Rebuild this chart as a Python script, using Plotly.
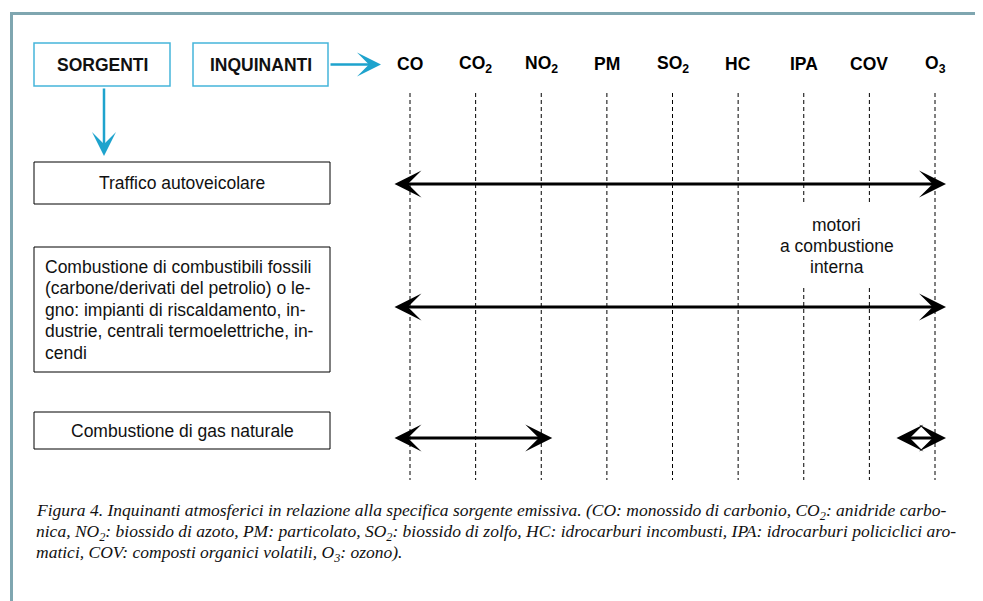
import plotly.graph_objects as go

# ---------------- data ----------------
pollutant_keys = ["CO", "CO2", "NO2", "PM", "SO2", "HC", "IPA", "COV", "O3"]
pollutant_labels = ["CO", "CO<sub>2</sub>", "NO<sub>2</sub>", "PM", "SO<sub>2</sub>",
                    "HC", "IPA", "COV", "O<sub>3</sub>"]

sources = [
    ["Traffico autoveicolare"],
    ["Combustione di combustibili fossili",
     "(carbone/derivati del petrolio) o le-",
     "gno: impianti di riscaldamento, in-",
     "dustrie, centrali termoelettriche, in-",
     "cendi"],
    ["Combustione di gas naturale"],
]
# spans of pollutants emitted by each source (from, to)
source_spans = [
    [("CO", "O3")],
    [("CO", "O3")],
    [("CO", "NO2"), ("O3", "O3")],
]
note_lines = ["motori", "a combustione", "interna"]
note_between = ("IPA", "COV")

header_left = "SORGENTI"
header_right = "INQUINANTI"

caption_lines = [
    "Figura 4. Inquinanti atmosferici in relazione alla specifica sorgente emissiva. "
    "(CO: monossido di carbonio, CO<sub>2</sub>: anidride carbo-",
    "nica, NO<sub>2</sub>: biossido di azoto, PM: particolato, SO<sub>2</sub>: biossido di zolfo, "
    "HC: idrocarburi incombusti, IPA: idrocarburi policiclici aro-",
    "matici, COV: composti organici volatili, O<sub>3</sub>: ozono).",
]

# ---------------- layout constants (pixels) ----------------
W, H = 983, 601
OFF = 8  # page body margin compensation
COL0_PX, COL_STEP_PX = 410.0, 65.625
x_min = (OFF - COL0_PX) / COL_STEP_PX
x_max = x_min + W / COL_STEP_PX

SANS = "Liberation Sans, Arial, Helvetica, sans-serif"
SERIF = "Liberation Serif, Times New Roman, serif"
CYAN = "#1ea3cd"
BOX_CYAN = "#45b5da"
FRAME = "#7fa6b0"

row_boxes = [(162, 204), (247, 372), (412, 449)]
row_arrow_y = [184, 307, 438]
row_text_align = ["center", "left", "center"]
LINE_H = 21.5

dash_top, dash_bot = 93, 480
gap_top, gap_bot = 205, 288

idx = {k: i for i, k in enumerate(pollutant_keys)}

fig = go.Figure()

# dashed vertical guide lines per pollutant
gap_cols = range(idx[note_between[0]], idx[note_between[1]] + 1)
for i, key in enumerate(pollutant_keys):
    if i in gap_cols:
        xs, ys = [i, i, None, i, i], [dash_top, gap_top, None, gap_bot, dash_bot]
    else:
        xs, ys = [i, i], [dash_top, dash_bot]
    fig.add_trace(go.Scatter(x=xs, y=ys, mode="lines", hoverinfo="skip",
                             line=dict(color="black", width=1, dash="4px,3px"),
                             showlegend=False, xaxis="x", yaxis="y"))

# pollutant labels
for i, lab in enumerate(pollutant_labels):
    fig.add_annotation(x=i, y=64, xref="x", yref="y", text=f"<b>{lab}</b>",
                       showarrow=False, font=dict(family=SANS, size=17.5, color="black"))

# source boxes & texts
BOX_L, BOX_R = 34, 330
for lines, (y0, y1), al in zip(sources, row_boxes, row_text_align):
    fig.add_shape(type="rect", xref="x2", yref="y", x0=BOX_L, x1=BOX_R, y0=y0, y1=y1,
                  line=dict(color="black", width=1))
    yc = (y0 + y1) / 2
    n = len(lines)
    for k, ln in enumerate(lines):
        yy = yc + (k - (n - 1) / 2) * LINE_H
        if al == "center":
            fig.add_annotation(x=(BOX_L + BOX_R) / 2, y=yy, xref="x2", yref="y",
                               text=ln, showarrow=False,
                               font=dict(family=SANS, size=17.5, color="#111"))
        else:
            fig.add_annotation(x=BOX_L + 9, y=yy, xref="x2", yref="y",
                               text=ln, showarrow=False, xanchor="left",
                               font=dict(family=SANS, size=17.5, color="#111"))

# double-headed arrows for each source span
PAD_L, PAD_R, SINGLE_L = 17 / COL_STEP_PX, 11 / COL_STEP_PX, 40 / COL_STEP_PX
for spans, y in zip(source_spans, row_arrow_y):
    for a, b in spans:
        xa = idx[a] - (SINGLE_L if a == b else PAD_L)
        xb = idx[b] + PAD_R
        fig.add_annotation(x=xb, y=y, ax=xa, ay=y, xref="x", yref="y", axref="x", ayref="y",
                           text="", showarrow=True, arrowhead=3, startarrowhead=3,
                           arrowside="end+start", arrowsize=1.5, startarrowsize=1.5,
                           arrowwidth=3, arrowcolor="black")

# note between IPA and COV
xn = (idx[note_between[0]] + idx[note_between[1]]) / 2
for k, ln in enumerate(note_lines):
    fig.add_annotation(x=xn, y=225 + 21 * k, xref="x", yref="y", text=ln, showarrow=False,
                       font=dict(family=SANS, size=17.5, color="#111"))

# header boxes
for (x0, x1), t in zip([(34, 170), (193, 328)], [header_left, header_right]):
    fig.add_shape(type="rect", xref="x2", yref="y", x0=x0, x1=x1, y0=43, y1=86,
                  line=dict(color=BOX_CYAN, width=1.5))
    fig.add_annotation(x=(x0 + x1) / 2, y=64.5, xref="x2", yref="y", text=f"<b>{t}</b>",
                       showarrow=False, font=dict(family=SANS, size=17.5, color="#111"))

# cyan arrows
fig.add_annotation(x=381, y=64.5, ax=329, ay=64.5, xref="x2", yref="y", axref="x2", ayref="y",
                   text="", showarrow=True, arrowhead=3, arrowsize=1.6, arrowwidth=2.5,
                   arrowcolor=CYAN)
fig.add_annotation(x=104, y=156, ax=104, ay=87, xref="x2", yref="y", axref="x2", ayref="y",
                   text="", showarrow=True, arrowhead=3, arrowsize=1.6, arrowwidth=2.5,
                   arrowcolor=CYAN)

# outer frame
fig.add_shape(type="path", xref="x2", yref="y",
              path=f"M 11.5 {H + OFF} L 11.5 13.5 L {W + OFF} 13.5",
              line=dict(color=FRAME, width=3))

# caption
for k, line in enumerate(caption_lines):
    fig.add_annotation(x=34, y=511 + 21 * k, xref="x2", yref="y", text=f"<i>{line}</i>",
                       showarrow=False, xanchor="left",
                       font=dict(family=SERIF, size=17.5, color="#111"))

fig.update_layout(
    width=W, height=H, autosize=False,
    margin=dict(l=0, r=0, t=0, b=0),
    paper_bgcolor="white", plot_bgcolor="white",
    xaxis=dict(range=[x_min, x_max], visible=False, fixedrange=True),
    xaxis2=dict(range=[OFF, W + OFF], visible=False, overlaying="x", fixedrange=True),
    yaxis=dict(range=[H + OFF, OFF], visible=False, fixedrange=True),
    showlegend=False,
)

fig.write_html("out.html")
